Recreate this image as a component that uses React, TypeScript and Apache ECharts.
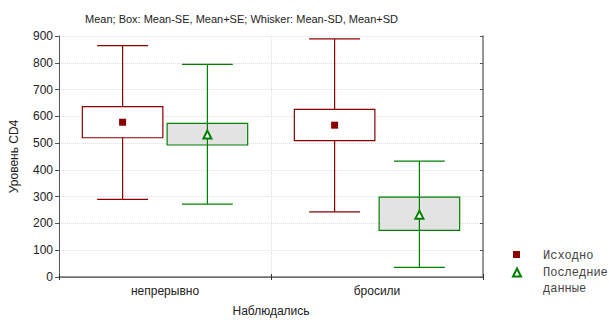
import React, { useEffect, useRef } from "react";
import * as echarts from "echarts";

const categories = ["непрерывно", "бросили"];
const seriesNames = ["Исходно", "Последние данные"];
// [category index, mean-SD, mean-SE, mean, mean+SE, mean+SD]
const baseline = [
  [0, 290, 520, 578, 636, 864],
  [1, 243, 509, 567, 626, 889],
];
const lastData = [
  [0, 272, 493, 530, 574, 794],
  [1, 36, 174, 231, 298, 433],
];
const yTicks = { min: 0, max: 900, interval: 100 };
const titleText = "Mean; Box: Mean-SE, Mean+SE; Whisker: Mean-SD, Mean+SD";

const FONT = "'Liberation Sans', Arial, sans-serif";
const MONO = "'Liberation Mono', 'DejaVu Sans Mono', monospace";
const RED = "#8b0000";
const GREEN = "#008000";

function makeRender(offset: number, color: string, fill: string, marker: "square" | "triangle") {
  return (params: any, api: any) => {
    const cat = api.value(0);
    const lo = api.value(1), seLo = api.value(2), mean = api.value(3), seHi = api.value(4), hi = api.value(5);
    const band = api.size([1, 0])[0];
    const cx = api.coord([cat, 0])[0] + offset * band;
    const y = (v: number) => api.coord([cat, v])[1];
    const bw = band * 0.38;
    const cw = band * 0.24;
    const lineStyle = { stroke: color, lineWidth: 1.2 };
    const children: any[] = [];
    const vline = { type: "line", shape: { x1: cx, y1: y(lo), x2: cx, y2: y(hi) }, style: lineStyle };
    const box = {
      type: "rect",
      shape: { x: cx - bw / 2, y: y(seHi), width: bw, height: y(seLo) - y(seHi) },
      style: { fill, stroke: color, lineWidth: 1.2 },
    };
    if (marker === "square") {
      children.push(vline, box);
    } else {
      children.push(box, vline);
    }
    children.push(
      { type: "line", shape: { x1: cx - cw / 2, y1: y(hi), x2: cx + cw / 2, y2: y(hi) }, style: lineStyle },
      { type: "line", shape: { x1: cx - cw / 2, y1: y(lo), x2: cx + cw / 2, y2: y(lo) }, style: lineStyle }
    );
    const my = y(mean);
    if (marker === "square") {
      children.push({ type: "rect", shape: { x: cx - 3.5, y: my - 3.5, width: 7, height: 7 }, style: { fill: color } });
    } else {
      children.push({
        type: "polygon",
        shape: { points: [[cx, my - 4.5], [cx + 4, my + 3.5], [cx - 4, my + 3.5]] },
        style: { fill: "#fff", stroke: color, lineWidth: 2 },
      });
    }
    return { type: "group", children };
  };
}

export default function App() {
  const ref = useRef<HTMLDivElement>(null);
  useEffect(() => {
    const chart = echarts.init(ref.current!, null, { renderer: "svg" });
    const monoText = (text: string, x: number, y: number) => ({
      type: "text",
      x,
      y,
      style: { text, fontFamily: MONO, fontSize: 12, fill: "#444", verticalAlign: "middle" },
    });
    chart.setOption({
      animation: false,
      backgroundColor: "#fff",
      title: {
        text: titleText,
        left: 80,
        top: 8,
        textStyle: { fontFamily: FONT, fontSize: 11, fontWeight: "normal", color: "#222" },
      },
      grid: { left: 57, right: 126, top: 36, bottom: 43 },
      xAxis: [
        {
          type: "category",
          data: categories,
          position: "bottom",
          axisLine: { show: true, lineStyle: { color: "#555", width: 1 } },
          axisTick: { show: true, inside: true, length: 3, lineStyle: { color: "#333" } },
          axisLabel: { fontFamily: FONT, fontSize: 12, color: "#222", margin: 8 },
          splitLine: { show: true, lineStyle: { color: "#ddd", type: "dotted" } },
          name: "Наблюдались",
          nameLocation: "middle",
          nameGap: 28,
          nameTextStyle: { fontFamily: FONT, fontSize: 12, color: "#222" },
        },
        {
          type: "category",
          data: categories,
          position: "top",
          axisLine: { show: true, lineStyle: { color: "#777", width: 1.5 } },
          axisTick: { show: true, inside: true, length: 3, lineStyle: { color: "#333" } },
          axisLabel: { show: false },
        },
      ],
      yAxis: [
        {
          type: "value",
          min: yTicks.min,
          max: yTicks.max,
          interval: yTicks.interval,
          axisLine: { show: true, lineStyle: { color: "#555", width: 1 } },
          axisTick: { show: true, length: 4, lineStyle: { color: "#555" } },
          axisLabel: { fontFamily: FONT, fontSize: 12, color: "#222", margin: 6 },
          splitLine: { show: true, lineStyle: { color: "#ddd", type: "dotted" } },
          name: "Уровень CD4",
          nameLocation: "middle",
          nameGap: 39,
          nameTextStyle: { fontFamily: FONT, fontSize: 12, color: "#222" },
        },
        {
          type: "value",
          min: yTicks.min,
          max: yTicks.max,
          interval: yTicks.interval,
          position: "right",
          axisLine: { show: true, lineStyle: { color: "#777", width: 1.5 } },
          axisTick: { show: true, inside: true, length: 3, lineStyle: { color: "#555" } },
          axisLabel: { show: false },
          splitLine: { show: false },
        },
      ],
      series: [
        {
          name: seriesNames[0],
          type: "custom",
          renderItem: makeRender(-0.2, RED, "#fff", "square"),
          encode: { x: 0, y: [1, 2, 3, 4, 5] },
          data: baseline,
          z: 3,
        },
        {
          name: seriesNames[1],
          type: "custom",
          renderItem: makeRender(0.2, GREEN, "#e3e3e3", "triangle"),
          encode: { x: 0, y: [1, 2, 3, 4, 5] },
          data: lastData,
          z: 3,
        },
      ],
      graphic: [
        { type: "rect", shape: { x: 513, y: 251, width: 7, height: 7 }, style: { fill: RED } },
        monoText("Исходно", 543, 256),
        {
          type: "polygon",
          shape: { points: [[517, 268.5], [521, 276.5], [513, 276.5]] },
          style: { fill: "#fff", stroke: GREEN, lineWidth: 2 },
        },
        monoText("Последние", 543, 273),
        monoText("данные", 543, 289),
      ],
    });
    return () => chart.dispose();
  }, []);
  return <div ref={ref} style={{ width: 609, height: 322, position: "absolute", left: 0, top: 0 }} />;
}
